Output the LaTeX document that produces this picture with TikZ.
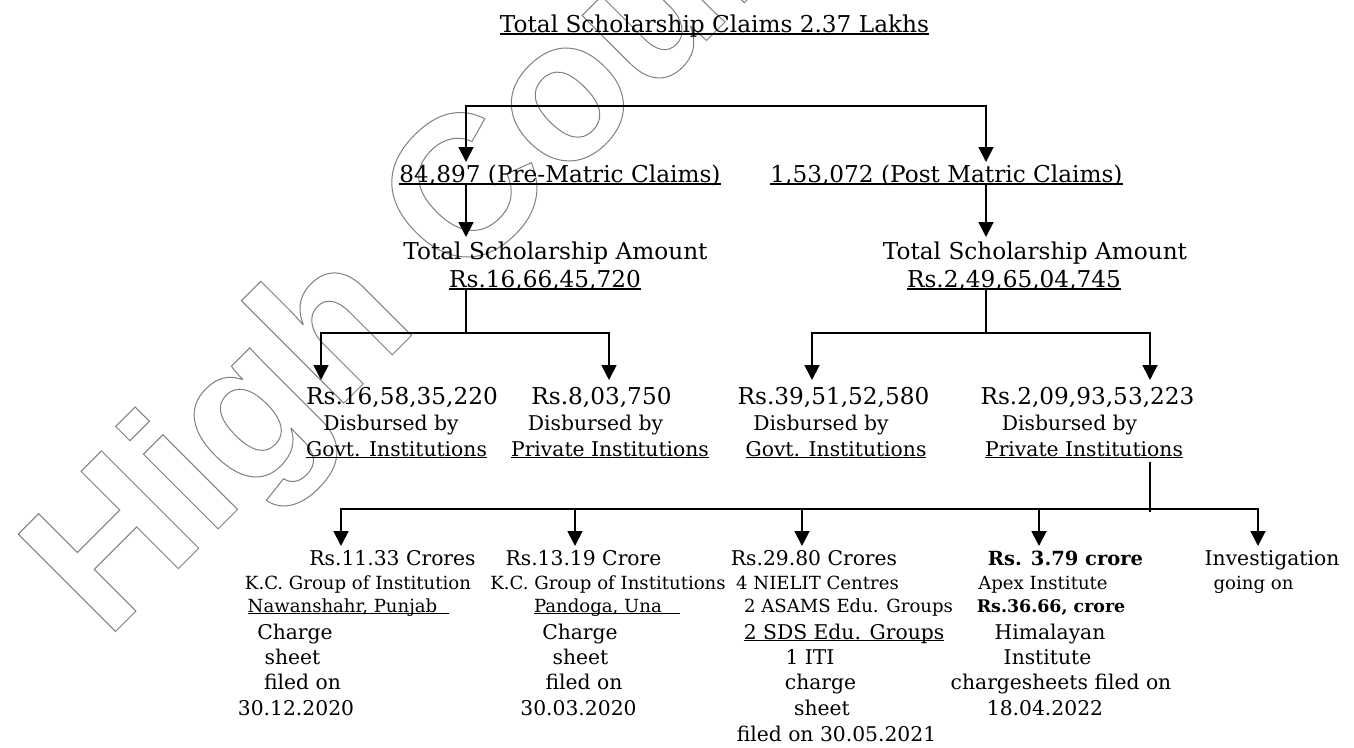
\documentclass[tikz,border=0pt]{standalone}
\usepackage{fontspec}
\setmainfont{DejaVu Serif}
\newfontfamily\wmfont{Liberation Sans}
\usetikzlibrary{arrows.meta,calc}
\newsavebox\ulbox
\newcommand\ulx[1]{\sbox\ulbox{#1}\rlap{\rule[-0.11em]{\wd\ulbox}{0.055em}}\usebox\ulbox}
\newcommand\outlinetext[1]{\special{pdf:literal direct 1 Tr 1 w}#1\special{pdf:literal direct 0 Tr}}
\tikzset{
  lab/.style={anchor=base, inner sep=0pt, outer sep=0pt},
  ta/.style={lab, font=\fontsize{23.2}{27}\selectfont},
  tb/.style={lab, font=\fontsize{20.3}{24}\selectfont},
  tc/.style={lab, font=\fontsize{18.1}{21}\selectfont},
  ln/.style={line width=1.8pt, line join=miter},
  arr/.style={ln, -{Triangle[width=15pt,length=15pt]}},
  wm/.style={anchor=base west, inner sep=0pt, rotate=45, text=black!50,
             font=\wmfont\bfseries\fontsize{200}{200}\selectfont},
}
\begin{document}
\begin{tikzpicture}[x=1pt,y=-1pt]
\useasboundingbox[fill=white] (0,0) rectangle (1354,747);

% watermark
\node[wm] (mark) at (106,641) {\outlinetext{High Court}};

% level 0
\node[ta] (title) at (714.5,32) {\ulx{Total Scholarship Claims 2.37 Lakhs}};
% level 1
\node[ta] (pre)  at (560,182) {\ulx{84,897 (Pre-Matric Claims)}};
\node[ta] (post) at (946.5,182) {\ulx{1,53,072 (Post Matric Claims)}};
% level 2
\node[ta] (totL) at (555.5,259) {Total Scholarship Amount};
\node[ta] (amtL) at (545,287) {\ulx{Rs.16,66,45,720}};
\node[ta] (totR) at (1035,259) {Total Scholarship Amount};
\node[ta] (amtR) at (1014,287) {\ulx{Rs.2,49,65,04,745}};
% level 3
\node[ta] (A1) at (402,404) {Rs.16,58,35,220};
\node[tb] (A2) at (391,430) {Disbursed by};
\node[tb] (A3) at (396.5,456) {\ulx{Govt. Institutions}};
\node[ta] (B1) at (601.5,404) {Rs.8,03,750};
\node[tb] (B2) at (595.5,430) {Disbursed by};
\node[tb] (B3) at (610,456) {\ulx{Private Institutions}};
\node[ta] (C1) at (833.5,404) {Rs.39,51,52,580};
\node[tb] (C2) at (821,430) {Disbursed by};
\node[tb] (C3) at (836,456) {\ulx{Govt. Institutions}};
\node[ta] (D1) at (1087.5,404) {Rs.2,09,93,53,223};
\node[tb] (D2) at (1069.5,430) {Disbursed by};
\node[tb] (D3) at (1084,456) {\ulx{Private Institutions}};
% level 4, column 1
\node[tb] (E1) at (392.5,565) {Rs.11.33 Crores};
\node[tc] (E2) at (358,589) {K.C. Group of Institution};
\node[tc] (E3) at (348.5,612) {\ulx{Nawanshahr, Punjab\hspace{12pt}}};
\node[tb] (E4) at (295,639) {Charge};
\node[tb] (E5) at (292.5,664) {sheet};
\node[tb] (E6) at (302.5,689) {filed on};
\node[tb] (E7) at (296,715) {30.12.2020};
% column 2
\node[tb] (F1) at (583.5,565) {Rs.13.19 Crore};
\node[tc] (F2) at (608,589) {K.C. Group of Institutions};
\node[tc] (F3) at (607,612) {\ulx{Pandoga, Una\hspace{18pt}}};
\node[tb] (F4) at (580,639) {Charge};
\node[tb] (F5) at (580.5,664) {sheet};
\node[tb] (F6) at (584,689) {filed on};
\node[tb] (F7) at (578.5,715) {30.03.2020};
% column 3
\node[tb] (G1) at (814,565) {Rs.29.80 Crores};
\node[tc] (G2) at (817.5,589) {4 NIELIT Centres};
\node[tc] (G3) at (848.5,612) {2 ASAMS Edu. Groups};
\node[tb] (G4) at (844,639) {\ulx{2 SDS Edu. Groups}};
\node[tb] (G5) at (810,664) {1 ITI};
\node[tb] (G6) at (820.5,689) {charge};
\node[tb] (G7) at (822,715) {sheet};
\node[tb] (G8) at (836.5,741) {filed on 30.05.2021};
% column 4
\node[lab, font=\fontsize{19.5}{24}\selectfont] (H1) at (1065.5,565) {\textbf{Rs. 3.79 crore}};
\node[tc] (H2) at (1043,589) {Apex Institute};
\node[lab, font=\fontsize{17.4}{21}\selectfont] (H3) at (1051,612) {\textbf{Rs.36.66, crore}};
\node[tb] (H4) at (1050,639) {Himalayan};
\node[tb] (H5) at (1047.5,664) {Institute};
\node[tb] (H6) at (1061,689) {chargesheets filed on};
\node[tb] (H7) at (1045,715) {18.04.2022};
% column 5
\node[tb] (I1) at (1272,565) {Investigation};
\node[tc] (I2) at (1253.5,589) {going on};

% skeleton coordinates
\coordinate (b1l) at (466,106);
\coordinate (b1r) at (986,106);
\coordinate (b2lc) at (466,333);
\coordinate (b2ll) at (321,333);
\coordinate (b2lr) at (609,333);
\coordinate (b2rc) at (986,333);
\coordinate (b2rl) at (812,333);
\coordinate (b2rr) at (1150,333);
\coordinate (b3v) at (1150,509);
\coordinate (b3a) at (341,509);
\coordinate (b3b) at (575,509);
\coordinate (b3c) at (802,509);
\coordinate (b3d) at (1039,509);
\coordinate (b3e) at (1258,509);

% level 0 -> 1
\draw[arr] (b1r) -- (b1l) -- ($(pre.base -| b1l)+(0,-20)$);
\draw[arr] (b1l) -- (b1r) -- ($(post.base -| b1r)+(0,-20)$);
% level 1 -> 2
\draw[arr] ($(pre.base -| b1l)+(0,3)$) -- ($(totL.base -| b1l)+(0,-22)$);
\draw[arr] ($(post.base -| b1r)+(0,3)$) -- ($(totR.base -| b1r)+(0,-22)$);
% level 2 -> 3
\draw[ln] ($(amtL.base -| b2lc)+(0,3)$) -- (b2lc);
\draw[arr] (b2lc) -| ($(A1.base -| b2ll)+(0,-24)$);
\draw[arr] (b2lc) -| ($(B1.base -| b2lr)+(0,-24)$);
\draw[ln] ($(amtR.base -| b2rc)+(0,3)$) -- (b2rc);
\draw[arr] (b2rc) -| ($(C1.base -| b2rl)+(0,-24)$);
\draw[arr] (b2rc) -| ($(D1.base -| b2rr)+(0,-24)$);
% level 3 -> 4
\draw[ln] ($(D3.base -| b3v)+(0,6)$) -- ($(b3v)+(0,3)$);
\draw[arr] (b3v) -| ($(E1.base -| b3a)+(0,-19)$);
\draw[arr] (b3v) -| ($(I1.base -| b3e)+(0,-19)$);
\draw[arr] (b3b) -- ($(F1.base -| b3b)+(0,-19)$);
\draw[arr] (b3c) -- ($(G1.base -| b3c)+(0,-19)$);
\draw[arr] (b3d) -- ($(H1.base -| b3d)+(0,-19)$);
\end{tikzpicture}
\end{document}
